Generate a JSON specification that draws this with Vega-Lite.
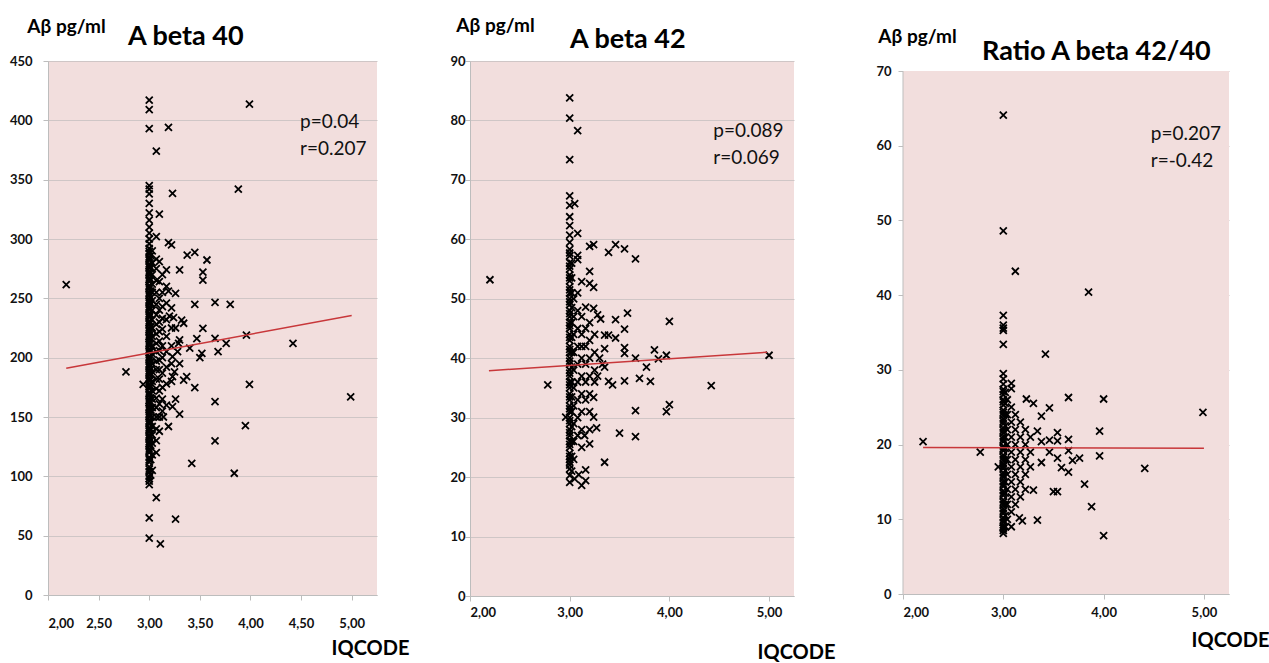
{
  "$schema": "https://vega.github.io/schema/vega-lite/v6.json",
  "padding": {"left": 9, "top": 16, "right": 0, "bottom": 0},
  "background": "white",
  "config": {
    "view": {"stroke": null},
    "font": "Lato",
    "axis": {"domainColor": "#BDBDBD", "tickColor": "#BDBDBD", "gridColor": "#CFC6C6", "labelFont": "Lato", "labelFontWeight": "bold", "labelFontSize": 13, "labelColor": "#111", "titleFont": "Lato", "titleColor": "#000", "titleFontWeight": "bold"}
  },
  "datasets": {
    "p40": [
      {"x":3,"y":417},{"x":3,"y":409},{"x":3,"y":393},{"x":3,"y":345},{"x":3,"y":342},{"x":3,"y":338},{"x":3,"y":330},{"x":3,"y":322},{"x":3,"y":316},{"x":3,"y":310},{"x":3,"y":305},{"x":3,"y":300},{"x":3,"y":296},{"x":3,"y":292},{"x":3,"y":288},{"x":3,"y":285},{"x":3,"y":282},{"x":3,"y":279},{"x":3,"y":276},{"x":3,"y":273},{"x":3,"y":270},{"x":3,"y":267},{"x":3,"y":264},{"x":3,"y":261},{"x":3,"y":258},{"x":3,"y":255},{"x":3,"y":252},{"x":3,"y":249},{"x":3,"y":246},{"x":3,"y":243},{"x":3,"y":240},{"x":3,"y":237},{"x":3,"y":234},{"x":3,"y":231},{"x":3,"y":228},{"x":3,"y":225},{"x":3,"y":222},{"x":3,"y":219},{"x":3,"y":216},{"x":3,"y":213},{"x":3,"y":210},{"x":3,"y":207},{"x":3,"y":204},{"x":3,"y":201},{"x":3,"y":198},{"x":3,"y":195},{"x":3,"y":192},{"x":3,"y":189},{"x":3,"y":186},{"x":3,"y":183},{"x":3,"y":180},{"x":3,"y":177},{"x":3,"y":174},{"x":3,"y":171},{"x":3,"y":168},{"x":3,"y":165},{"x":3,"y":162},{"x":3,"y":159},{"x":3,"y":156},{"x":3,"y":153},{"x":3,"y":150},{"x":3,"y":147},{"x":3,"y":144},{"x":3,"y":141},{"x":3,"y":138},{"x":3,"y":135},{"x":3,"y":132},{"x":3,"y":129},{"x":3,"y":126},{"x":3,"y":123},{"x":3,"y":120},{"x":3,"y":116},{"x":3,"y":112},{"x":3,"y":108},{"x":3,"y":104},{"x":3,"y":100},{"x":3,"y":96},{"x":3,"y":93},{"x":3,"y":65},{"x":3,"y":48},
      {"x":3,"y":289.5},{"x":3,"y":283.5},{"x":3,"y":277.5},{"x":3,"y":271.5},{"x":3,"y":265.5},{"x":3,"y":259.5},{"x":3,"y":253.5},{"x":3,"y":247.5},{"x":3,"y":241.5},{"x":3,"y":235.5},{"x":3,"y":229.5},{"x":3,"y":223.5},{"x":3,"y":217.5},{"x":3,"y":211.5},{"x":3,"y":205.5},{"x":3,"y":199.5},{"x":3,"y":193.5},{"x":3,"y":187.5},{"x":3,"y":181.5},{"x":3,"y":175.5},{"x":3,"y":169.5},{"x":3,"y":163.5},{"x":3,"y":157.5},{"x":3,"y":151.5},{"x":3,"y":145.5},{"x":3,"y":139.5},{"x":3,"y":133.5},{"x":3,"y":127.5},{"x":3,"y":121.5},{"x":3,"y":114},{"x":3,"y":106},{"x":3,"y":98},
      {"x":3.015,"y":286},{"x":3.015,"y":276},{"x":3.015,"y":266},{"x":3.015,"y":256},{"x":3.015,"y":246},{"x":3.015,"y":236},{"x":3.015,"y":226},{"x":3.015,"y":216},{"x":3.015,"y":206},{"x":3.015,"y":196},{"x":3.015,"y":186},{"x":3.015,"y":176},{"x":3.015,"y":166},{"x":3.015,"y":156},{"x":3.015,"y":146},{"x":3.015,"y":136},{"x":3.015,"y":126},{"x":3.015,"y":114},{"x":3.015,"y":101},
      {"x":3.03,"y":290},{"x":3.03,"y":280},{"x":3.03,"y":270},{"x":3.03,"y":262},{"x":3.03,"y":255},{"x":3.03,"y":248},{"x":3.03,"y":240},{"x":3.03,"y":232},{"x":3.03,"y":225},{"x":3.03,"y":218},{"x":3.03,"y":210},{"x":3.03,"y":203},{"x":3.03,"y":195},{"x":3.03,"y":188},{"x":3.03,"y":180},{"x":3.03,"y":172},{"x":3.03,"y":165},{"x":3.03,"y":158},{"x":3.03,"y":150},{"x":3.03,"y":142},{"x":3.03,"y":135},{"x":3.03,"y":128},{"x":3.03,"y":118},{"x":3.03,"y":105},
      {"x":3.07,"y":374},{"x":3.07,"y":302},{"x":3.07,"y":283},{"x":3.07,"y":275},{"x":3.07,"y":265},{"x":3.07,"y":255},{"x":3.07,"y":245},{"x":3.07,"y":236},{"x":3.07,"y":228},{"x":3.07,"y":220},{"x":3.07,"y":212},{"x":3.07,"y":205},{"x":3.07,"y":197},{"x":3.07,"y":190},{"x":3.07,"y":182},{"x":3.07,"y":174},{"x":3.07,"y":166},{"x":3.07,"y":158},{"x":3.07,"y":150},{"x":3.07,"y":140},{"x":3.07,"y":130},{"x":3.07,"y":120},{"x":3.07,"y":82},
      {"x":3.1,"y":321},{"x":3.1,"y":281},{"x":3.1,"y":264},{"x":3.1,"y":250},{"x":3.1,"y":240},{"x":3.1,"y":230},{"x":3.1,"y":222},{"x":3.1,"y":214},{"x":3.1,"y":206},{"x":3.1,"y":198},{"x":3.1,"y":190},{"x":3.1,"y":182},{"x":3.1,"y":172},{"x":3.1,"y":161},{"x":3.1,"y":150},{"x":3.1,"y":138},
      {"x":3.13,"y":270},{"x":3.13,"y":255},{"x":3.13,"y":243},{"x":3.13,"y":233},{"x":3.13,"y":224},{"x":3.13,"y":210},{"x":3.13,"y":200},{"x":3.13,"y":187},{"x":3.13,"y":175},{"x":3.13,"y":165},{"x":3.13,"y":155},
      {"x":3.17,"y":274},{"x":3.17,"y":260},{"x":3.17,"y":246},{"x":3.17,"y":232},{"x":3.17,"y":218},{"x":3.17,"y":205},{"x":3.17,"y":192},{"x":3.17,"y":178},{"x":3.17,"y":160},
      {"x":3.19,"y":394},{"x":3.19,"y":297},{"x":3.19,"y":256},{"x":3.19,"y":142},
      {"x":3.22,"y":295},{"x":3.22,"y":242},{"x":3.22,"y":225},{"x":3.22,"y":210},{"x":3.22,"y":195},{"x":3.22,"y":180},
      {"x":3.11,"y":43},
      {"x":2.18,"y":261.5},{"x":2.77,"y":188},{"x":2.94,"y":177.5},{"x":3.99,"y":413.7},{"x":3.88,"y":342},{"x":3.23,"y":338.5},{"x":3.375,"y":286.5},{"x":3.45,"y":288.8},{"x":3.57,"y":282.3},{"x":3.53,"y":272},{"x":3.53,"y":265.4},{"x":3.3,"y":273.9},{"x":3.26,"y":254.2},{"x":3.45,"y":245},{"x":3.65,"y":246.6},{"x":3.8,"y":245},{"x":3.53,"y":224.7},{"x":3.65,"y":216.3},{"x":3.76,"y":212},{"x":3.96,"y":219},{"x":4.42,"y":212},{"x":3.68,"y":205},{"x":3.52,"y":203.6},{"x":3.5,"y":200},{"x":3.99,"y":177.5},{"x":4.99,"y":167},{"x":3.65,"y":163},{"x":3.45,"y":174.7},{"x":3.95,"y":142.7},{"x":3.65,"y":129.8},{"x":3.42,"y":111},{"x":3.84,"y":102.6},{"x":3.26,"y":64},
      {"x":3.24,"y":233.7},{"x":3.32,"y":231.7},{"x":3.34,"y":229},{"x":3.2,"y":235},{"x":3.26,"y":225},{"x":3.3,"y":215},{"x":3.28,"y":205},{"x":3.3,"y":195},{"x":3.25,"y":188},{"x":3.34,"y":181},{"x":3.37,"y":184},{"x":3.23,"y":184},{"x":3.23,"y":200.8},{"x":3.29,"y":212},{"x":3.26,"y":165},{"x":3.23,"y":158.7},{"x":3.3,"y":152.5},{"x":3.14,"y":150},{"x":3.47,"y":216},{"x":3.4,"y":208}
    ],
    "p42": [
      {"x":3,"y":83.8},{"x":3,"y":80.4},{"x":3,"y":73.4},{"x":3,"y":67.3},{"x":3,"y":65.7},{"x":3,"y":63.8},{"x":3,"y":62.3},{"x":3,"y":60.7},{"x":3,"y":59.5},{"x":3,"y":58.3},{"x":3,"y":57.2},{"x":3,"y":56.1},{"x":3,"y":55},{"x":3,"y":54},{"x":3,"y":53},{"x":3,"y":52},{"x":3,"y":51},{"x":3,"y":50},{"x":3,"y":49},{"x":3,"y":48},{"x":3,"y":47},{"x":3,"y":46},{"x":3,"y":45},{"x":3,"y":44},{"x":3,"y":43},{"x":3,"y":42},{"x":3,"y":41},{"x":3,"y":40},{"x":3,"y":39},{"x":3,"y":38},{"x":3,"y":37},{"x":3,"y":36},{"x":3,"y":35},{"x":3,"y":34},{"x":3,"y":33},{"x":3,"y":32},{"x":3,"y":31},{"x":3,"y":30},{"x":3,"y":29},{"x":3,"y":28},{"x":3,"y":27},{"x":3,"y":26},{"x":3,"y":25},{"x":3,"y":24},{"x":3,"y":23},{"x":3,"y":22},{"x":3,"y":21.4},{"x":3,"y":19.1},{"x":2.96,"y":30.1},
      {"x":3,"y":57.7},{"x":3,"y":55.5},{"x":3,"y":53.5},{"x":3,"y":51.5},{"x":3,"y":49.5},{"x":3,"y":47.5},{"x":3,"y":45.5},{"x":3,"y":43.5},{"x":3,"y":41.5},{"x":3,"y":39.5},{"x":3,"y":37.5},{"x":3,"y":35.5},{"x":3,"y":33.5},{"x":3,"y":31.5},{"x":3,"y":29.5},{"x":3,"y":27.5},{"x":3,"y":25.5},{"x":3,"y":23.5},{"x":3,"y":22.5},{"x":3,"y":20.3},
      {"x":3.02,"y":56},{"x":3.02,"y":53.5},{"x":3.02,"y":51},{"x":3.02,"y":48.5},{"x":3.02,"y":46},{"x":3.02,"y":43.5},{"x":3.02,"y":41},{"x":3.02,"y":38.5},{"x":3.02,"y":36},{"x":3.02,"y":33.5},{"x":3.02,"y":31},{"x":3.02,"y":28.5},{"x":3.02,"y":26},{"x":3.02,"y":23.5},{"x":3.02,"y":21},
      {"x":3.05,"y":66},{"x":3.05,"y":19.7},{"x":3.08,"y":78.3},{"x":3.08,"y":61},{"x":3.08,"y":57.3},{"x":3.08,"y":56.6},{"x":3.09,"y":20.4},{"x":3.12,"y":52.9},{"x":3.12,"y":25},{"x":3.12,"y":18.6},{"x":3.16,"y":48.6},{"x":3.16,"y":21.2},{"x":3.16,"y":19.4},{"x":3.15,"y":27},{"x":3.2,"y":58.8},{"x":3.2,"y":54.6},{"x":3.2,"y":52.6},{"x":3.2,"y":25.6},
      {"x":3.04,"y":50},{"x":3.04,"y":47},{"x":3.04,"y":44},{"x":3.04,"y":41},{"x":3.04,"y":38},{"x":3.04,"y":35},{"x":3.04,"y":32},{"x":3.04,"y":29},{"x":3.04,"y":26},{"x":3.04,"y":23},
      {"x":3.08,"y":51},{"x":3.08,"y":48},{"x":3.08,"y":45},{"x":3.08,"y":42},{"x":3.08,"y":39},{"x":3.08,"y":36},{"x":3.08,"y":33},{"x":3.08,"y":30},{"x":3.08,"y":27},
      {"x":3.12,"y":47},{"x":3.12,"y":44},{"x":3.12,"y":42},{"x":3.12,"y":40},{"x":3.12,"y":37},{"x":3.12,"y":34},{"x":3.12,"y":31},{"x":3.12,"y":28},
      {"x":3.16,"y":45},{"x":3.16,"y":42},{"x":3.16,"y":39},{"x":3.16,"y":36},{"x":3.16,"y":33},
      {"x":3.2,"y":46},{"x":3.2,"y":43},{"x":3.2,"y":40},{"x":3.2,"y":37},{"x":3.2,"y":34},{"x":3.2,"y":31},{"x":3.2,"y":28},
      {"x":3.25,"y":44},{"x":3.25,"y":41},{"x":3.25,"y":38},{"x":3.25,"y":36},
      {"x":2.2,"y":53.2},{"x":2.78,"y":35.5},{"x":3.24,"y":59.1},{"x":3.39,"y":57.8},{"x":3.46,"y":59.1},{"x":3.55,"y":58.4},{"x":3.66,"y":56.7},{"x":3.24,"y":51.9},{"x":3.24,"y":48.4},{"x":3.28,"y":47.3},{"x":3.31,"y":46.6},{"x":3.46,"y":46.5},{"x":3.58,"y":47.6},{"x":4.0,"y":46.2},{"x":3.55,"y":44.9},{"x":3.35,"y":43.9},{"x":3.39,"y":43.9},{"x":3.46,"y":43.4},{"x":3.35,"y":41.6},{"x":3.55,"y":41.8},{"x":3.55,"y":40.8},{"x":3.85,"y":41.4},{"x":3.66,"y":40},{"x":3.89,"y":39.9},{"x":3.97,"y":40.5},{"x":5.0,"y":40.5},{"x":3.77,"y":38.5},{"x":3.7,"y":36.6},{"x":3.81,"y":36.1},{"x":3.55,"y":36.2},{"x":3.39,"y":36.1},{"x":3.43,"y":35.5},{"x":4.42,"y":35.4},{"x":3.24,"y":33.4},{"x":3.66,"y":31.2},{"x":3.97,"y":31},{"x":4.0,"y":32.2},{"x":3.24,"y":30.1},{"x":3.27,"y":28.3},{"x":3.5,"y":27.4},{"x":3.66,"y":26.8},{"x":3.35,"y":22.5},{"x":3.3,"y":40},{"x":3.33,"y":39},{"x":3.35,"y":38.5},{"x":3.28,"y":37}
    ],
    "pr": [
      {"x":3,"y":64.1},{"x":3,"y":48.6},{"x":3,"y":37.3},{"x":3,"y":36},{"x":3,"y":35.6},{"x":3,"y":35.3},{"x":3,"y":33.4},{"x":3,"y":29.5},{"x":3,"y":28.8},{"x":3,"y":28.1},{"x":3,"y":27.4},{"x":3,"y":26.7},{"x":3,"y":26},{"x":3,"y":25.3},{"x":3,"y":24.6},{"x":3,"y":24},{"x":3,"y":23.4},{"x":3,"y":22.8},{"x":3,"y":22.2},{"x":3,"y":21.6},{"x":3,"y":21},{"x":3,"y":20.4},{"x":3,"y":19.8},{"x":3,"y":19.2},{"x":3,"y":18.6},{"x":3,"y":18},{"x":3,"y":17.4},{"x":3,"y":16.8},{"x":3,"y":16.2},{"x":3,"y":15.6},{"x":3,"y":15},{"x":3,"y":14.4},{"x":3,"y":13.8},{"x":3,"y":13.2},{"x":3,"y":12.6},{"x":3,"y":12},{"x":3,"y":11.4},{"x":3,"y":10.8},{"x":3,"y":10.2},{"x":3,"y":9.6},{"x":3,"y":9},{"x":3,"y":8.5},{"x":3,"y":8.1},
      {"x":3,"y":27.1},{"x":3,"y":25.7},{"x":3,"y":24.3},{"x":3,"y":23.1},{"x":3,"y":21.9},{"x":3,"y":20.7},{"x":3,"y":19.5},{"x":3,"y":18.3},{"x":3,"y":17.1},{"x":3,"y":15.9},{"x":3,"y":14.7},{"x":3,"y":13.5},{"x":3,"y":12.3},{"x":3,"y":11.1},{"x":3,"y":9.9},{"x":3,"y":8.8},
      {"x":3.02,"y":27},{"x":3.02,"y":25.5},{"x":3.02,"y":24},{"x":3.02,"y":22.5},{"x":3.02,"y":21},{"x":3.02,"y":19.5},{"x":3.02,"y":18},{"x":3.02,"y":16.5},{"x":3.02,"y":15},{"x":3.02,"y":13.5},{"x":3.02,"y":12},{"x":3.02,"y":10.5},{"x":3.02,"y":9},
      {"x":3.08,"y":28.2},{"x":3.08,"y":27.5},{"x":3.12,"y":43.2},{"x":3.42,"y":32.1},{"x":3.08,"y":9.0},{"x":3.16,"y":10.2},{"x":3.19,"y":9.8},{"x":3.34,"y":9.9},{"x":2.95,"y":17.0},
      {"x":3.04,"y":26},{"x":3.04,"y":24},{"x":3.04,"y":22},{"x":3.04,"y":20},{"x":3.04,"y":18},{"x":3.04,"y":16},{"x":3.04,"y":14},{"x":3.04,"y":12},{"x":3.04,"y":10},
      {"x":3.08,"y":25},{"x":3.08,"y":23},{"x":3.08,"y":21},{"x":3.08,"y":19},{"x":3.08,"y":17},{"x":3.08,"y":15},{"x":3.08,"y":13},{"x":3.08,"y":11},
      {"x":3.12,"y":24},{"x":3.12,"y":22},{"x":3.12,"y":20},{"x":3.12,"y":18},{"x":3.12,"y":16},{"x":3.12,"y":14},{"x":3.12,"y":12},
      {"x":3.17,"y":23},{"x":3.17,"y":21},{"x":3.17,"y":19},{"x":3.17,"y":17},{"x":3.17,"y":15},{"x":3.17,"y":13},
      {"x":3.22,"y":22},{"x":3.22,"y":20},{"x":3.22,"y":18},{"x":3.22,"y":16},{"x":3.22,"y":14},
      {"x":3.27,"y":21},{"x":3.27,"y":19},{"x":3.27,"y":17},
      {"x":2.2,"y":20.4},{"x":2.77,"y":19.0},{"x":3.85,"y":40.4},{"x":3.23,"y":26.1},{"x":3.30,"y":25.5},{"x":3.46,"y":24.9},{"x":3.38,"y":23.8},{"x":3.65,"y":26.3},{"x":4.0,"y":26.1},{"x":4.99,"y":24.3},{"x":3.96,"y":21.8},{"x":3.54,"y":21.6},{"x":3.65,"y":20.7},{"x":3.34,"y":21.8},{"x":3.46,"y":20.6},{"x":3.54,"y":20.5},{"x":3.38,"y":20.4},{"x":3.65,"y":19.2},{"x":3.46,"y":19.0},{"x":3.54,"y":18.2},{"x":3.69,"y":17.9},{"x":3.76,"y":18.2},{"x":3.96,"y":18.5},{"x":4.41,"y":16.8},{"x":3.58,"y":16.9},{"x":3.65,"y":16.3},{"x":3.38,"y":17.6},{"x":3.81,"y":14.7},{"x":3.5,"y":13.7},{"x":3.54,"y":13.7},{"x":3.3,"y":13.9},{"x":3.88,"y":11.7},{"x":4.0,"y":7.8}
    ],
    "l40": [{"x":2.18,"y":191},{"x":5.0,"y":235.5}],
    "l42": [{"x":2.19,"y":37.9},{"x":4.98,"y":41.0}],
    "lr": [{"x":2.2,"y":19.6},{"x":5.0,"y":19.5}],
    "a40": [{"x":4.49,"y":393.3,"label":"p=0.04\nr=0.207"}],
    "a42": [{"x":4.44,"y":77.2,"label":"p=0.089\nr=0.069"}],
    "ar": [{"x":4.47,"y":60.8,"label":"p=0.207\nr=-0.42"}],
    "bg": [{"x":2,"x2":5.25,"y":0,"y2":70}]
  },
  "align": "each",
  "spacing": 40,
  "hconcat": [
    {
      "width": 329, "height": 534,
      "view": {"fill": "#F2DEDD", "stroke": null},
      "title": {"text": "A beta 40", "anchor": "start", "frame": "group", "dx": 80, "dy": 34, "offset": 0, "fontSize": 27, "font": "Lato", "fontWeight": "bold", "color": "#000"},
      "layer": [
        {
          "data": {"name": "p40"},
          "mark": {"type": "point", "shape": "M-1,-1L1,1M-1,1L1,-1", "filled": false, "stroke": "#000", "strokeWidth": 1.8, "size": 49, "opacity": 1},
          "encoding": {
            "x": {"field": "x", "type": "quantitative", "scale": {"domain": [2, 5.25], "nice": false, "zero": false},
              "axis": {"values": [2, 2.5, 3, 3.5, 4, 4.5, 5], "labelExpr": "replace(format(datum.value, '.2f'), '.', ',')", "grid": false, "tickSize": 5, "labelPadding": 17, "title": "IQCODE", "titleFontSize": 20, "titleX": 322, "titleY": 53, "titleAlign": "center", "titleBaseline": "middle"}},
            "y": {"field": "y", "type": "quantitative", "scale": {"domain": [0, 450], "nice": false},
              "axis": {"values": [0, 50, 100, 150, 200, 250, 300, 350, 400, 450], "grid": true, "tickSize": 5, "labelPadding": 11, "title": "Aβ pg/ml", "titleAngle": 0, "titleFontSize": 19, "titleX": 18, "titleY": -35, "titleAlign": "center", "titleBaseline": "middle"}}
          }
        },
        {"data": {"name": "l40"}, "mark": {"type": "line", "color": "#C8373A", "strokeWidth": 1.5}, "encoding": {"x": {"field": "x", "type": "quantitative"}, "y": {"field": "y", "type": "quantitative"}}},
        {"data": {"name": "a40"}, "mark": {"type": "text", "align": "left", "baseline": "alphabetic", "fontSize": 19, "font": "Lato", "lineBreak": "\n", "lineHeight": 27, "color": "#111"}, "encoding": {"x": {"field": "x", "type": "quantitative"}, "y": {"field": "y", "type": "quantitative"}, "text": {"field": "label"}}}
      ]
    },
    {
      "width": 324, "height": 535,
      "view": {"fill": "#F2DEDD", "stroke": null},
      "title": {"text": "A beta 42", "anchor": "start", "frame": "group", "dx": 100, "dy": 37.5, "offset": 0, "fontSize": 27, "font": "Lato", "fontWeight": "bold", "color": "#000"},
      "layer": [
        {
          "data": {"name": "p42"},
          "mark": {"type": "point", "shape": "M-1,-1L1,1M-1,1L1,-1", "filled": false, "stroke": "#000", "strokeWidth": 1.8, "size": 49, "opacity": 1},
          "encoding": {
            "x": {"field": "x", "type": "quantitative", "scale": {"domain": [2, 5.25], "nice": false, "zero": false},
              "axis": {"values": [2, 3, 4, 5], "labelExpr": "replace(format(datum.value, '.2f'), '.', ',')", "grid": false, "tickSize": 5, "labelPadding": 5, "title": "IQCODE", "titleFontSize": 20, "titleX": 326, "titleY": 56, "titleAlign": "center", "titleBaseline": "middle"}},
            "y": {"field": "y", "type": "quantitative", "scale": {"domain": [0, 90], "nice": false},
              "axis": {"values": [0, 10, 20, 30, 40, 50, 60, 70, 80, 90], "grid": true, "tickSize": 5, "labelPadding": 0, "title": "Aβ pg/ml", "titleAngle": 0, "titleFontSize": 19, "titleX": 25, "titleY": -36, "titleAlign": "center", "titleBaseline": "middle"}}
          }
        },
        {"data": {"name": "l42"}, "mark": {"type": "line", "color": "#C8373A", "strokeWidth": 1.5}, "encoding": {"x": {"field": "x", "type": "quantitative"}, "y": {"field": "y", "type": "quantitative"}}},
        {"data": {"name": "a42"}, "mark": {"type": "text", "align": "left", "baseline": "alphabetic", "fontSize": 19, "font": "Lato", "lineBreak": "\n", "lineHeight": 27, "color": "#111"}, "encoding": {"x": {"field": "x", "type": "quantitative"}, "y": {"field": "y", "type": "quantitative"}, "text": {"field": "label"}}}
      ]
    },
    {
      "width": 326, "height": 533,
      "view": {"fill": null, "stroke": null},
      "title": {"text": "Ratio A beta 42/40", "anchor": "start", "frame": "group", "dx": 79, "dy": 38.5, "offset": 0, "fontSize": 27, "font": "Lato", "fontWeight": "bold", "color": "#000"},
      "layer": [
        {
          "data": {"name": "bg"},
          "mark": {"type": "rect", "color": "#F2DEDD"},
          "encoding": {
            "x": {"field": "x", "type": "quantitative", "scale": {"domain": [2, 5.25], "nice": false, "zero": false},
              "axis": {"values": [2, 3, 4, 5], "labelExpr": "replace(format(datum.value, '.2f'), '.', ',')", "grid": false, "tickSize": 5, "labelPadding": 7, "title": "IQCODE", "titleFontSize": 20, "titleX": 327, "titleY": 46, "titleAlign": "center", "titleBaseline": "middle"}},
            "x2": {"field": "x2"},
            "y": {"field": "y", "type": "quantitative", "scale": {"domain": [0, 71.34], "nice": false},
              "axis": {"values": [0, 10, 20, 30, 40, 50, 60, 70], "grid": true, "domain": false, "tickSize": 5, "labelPadding": 7, "title": "Aβ pg/ml", "titleAngle": 0, "titleFontSize": 19, "titleX": 14, "titleY": -25, "titleAlign": "center", "titleBaseline": "middle"}},
            "y2": {"field": "y2"}
          }
        },
        {"data": {"name": "bg"}, "mark": {"type": "rule", "color": "#BDBDBD", "strokeWidth": 1}, "encoding": {"x": {"field": "x", "type": "quantitative"}, "y": {"field": "y", "type": "quantitative"}, "y2": {"field": "y2"}}},
        {
          "data": {"name": "pr"},
          "mark": {"type": "point", "shape": "M-1,-1L1,1M-1,1L1,-1", "filled": false, "stroke": "#000", "strokeWidth": 1.8, "size": 49, "opacity": 1},
          "encoding": {"x": {"field": "x", "type": "quantitative"}, "y": {"field": "y", "type": "quantitative"}}
        },
        {"data": {"name": "lr"}, "mark": {"type": "line", "color": "#C8373A", "strokeWidth": 1.5}, "encoding": {"x": {"field": "x", "type": "quantitative"}, "y": {"field": "y", "type": "quantitative"}}},
        {"data": {"name": "ar"}, "mark": {"type": "text", "align": "left", "baseline": "alphabetic", "fontSize": 19, "font": "Lato", "lineBreak": "\n", "lineHeight": 27, "color": "#111"}, "encoding": {"x": {"field": "x", "type": "quantitative"}, "y": {"field": "y", "type": "quantitative"}, "text": {"field": "label"}}}
      ]
    }
  ]
}
